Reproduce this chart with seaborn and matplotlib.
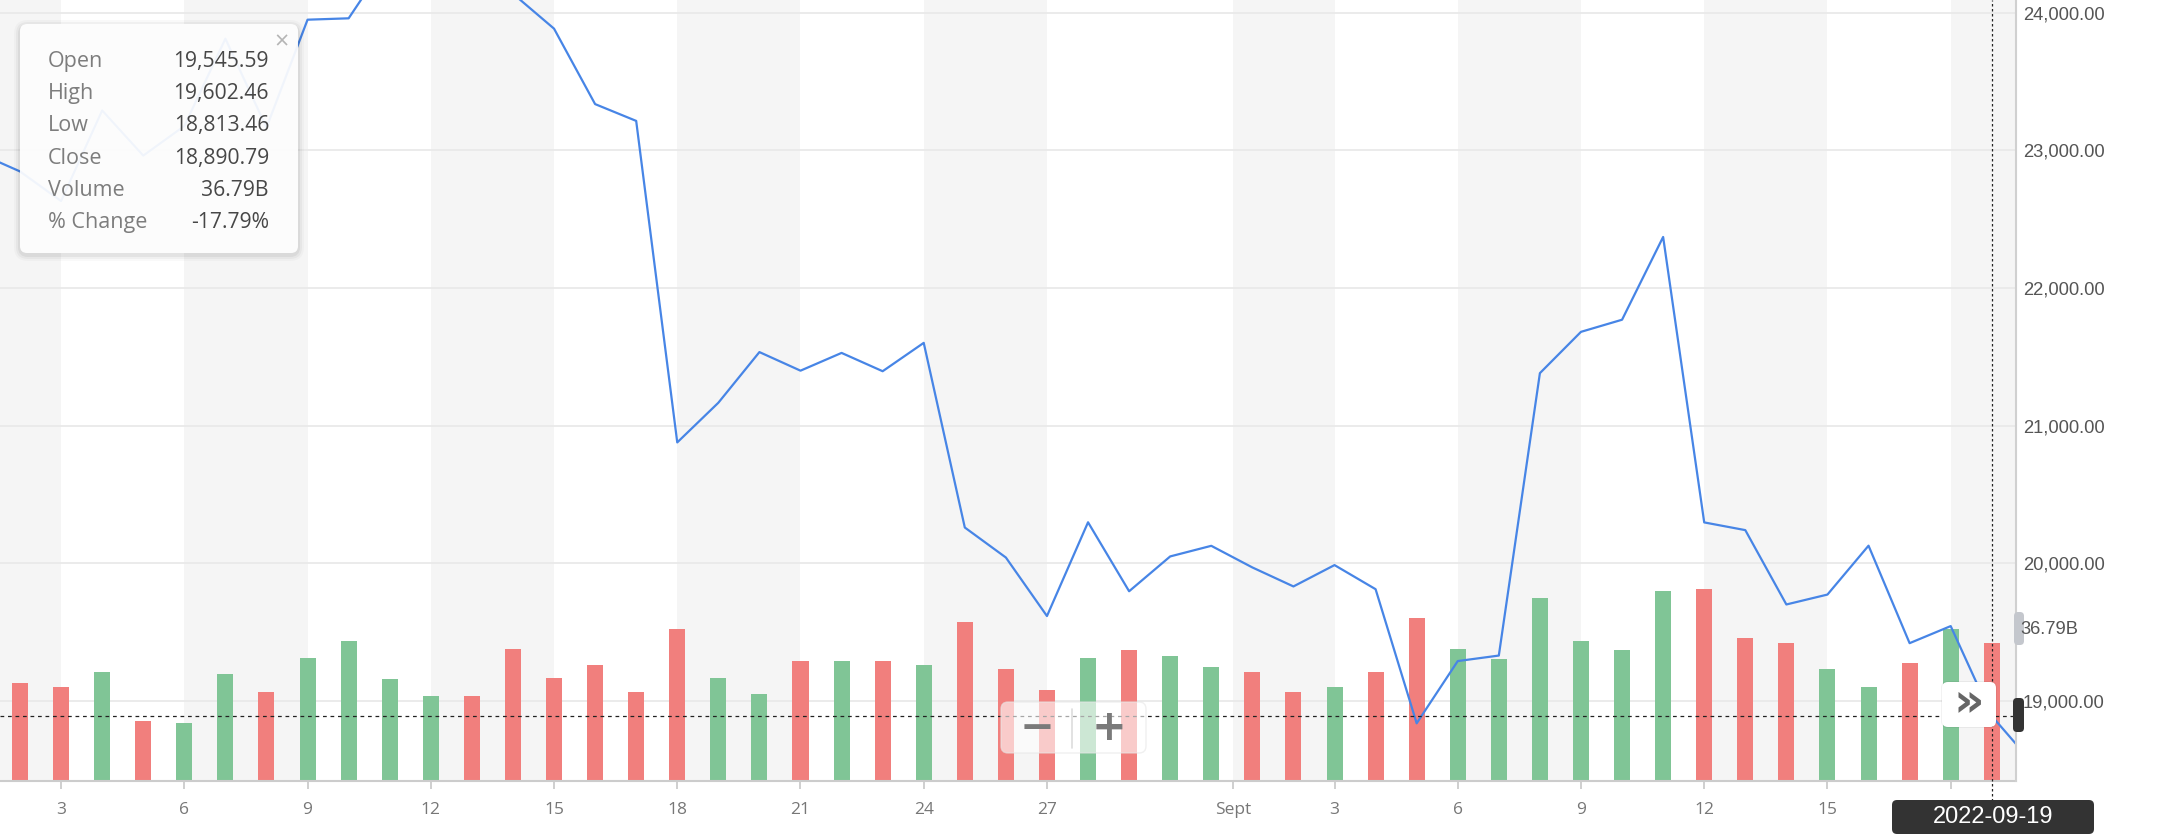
import numpy as np
import pandas as pd
import matplotlib
matplotlib.use("Agg")
import matplotlib.pyplot as plt
import matplotlib.transforms as mtransforms
from matplotlib.patches import FancyBboxPatch
import seaborn as sns

sns.set_theme(style="white")
plt.rcParams['font.family'] = ['Liberation Sans', 'DejaVu Sans']

# day numbers: Aug 1 = 0 ... Aug 31 = 30, Sep 1 = 31 ... Sep 20 = 50
close_days = list(range(0, 51))
close_vals = [22978, 22846, 22631, 23289, 22961, 23176, 23810, 23164, 23948, 23958,
              24403, 24424, 24319, 24137, 23883, 23335, 23213, 20878, 21166, 21534,
              21399, 21528, 21395, 21601, 20260, 20042, 19617, 20298, 19797, 20050,
              20127, 19970, 19832, 19987, 19812, 18838, 19290, 19330, 21381, 21681,
              21769, 22370, 20297, 20241, 19701, 19773, 20128, 19420, 19544, 18891,
              18547]

# volume in billions, Aug 2 ... Sep 19
vol_days = list(range(1, 50))
vol_vals = [26.1, 25.2, 29.0, 16.0, 15.6, 28.5, 23.7, 32.9, 37.3, 27.2,
            22.8, 22.8, 35.3, 27.6, 31.0, 23.7, 40.6, 27.6, 23.2, 32.0,
            32.0, 32.0, 31.0, 42.6, 30.0, 24.2, 32.9, 34.9, 33.3, 30.5,
            29.0, 23.8, 25.2, 29.0, 43.6, 35.4, 32.5, 48.8, 37.3, 34.9,
            50.8, 51.2, 38.2, 36.8, 30.0, 25.2, 31.4, 40.7, 36.79]
vol_dir = ['down', 'down', 'up', 'down', 'up', 'up', 'down', 'up', 'up', 'up',
           'up', 'down', 'down', 'down', 'down', 'down', 'down', 'up', 'up', 'down',
           'up', 'down', 'up', 'down', 'down', 'down', 'up', 'down', 'up', 'up',
           'down', 'down', 'up', 'down', 'down', 'up', 'up', 'up', 'up', 'up',
           'up', 'down', 'down', 'down', 'up', 'up', 'down', 'up', 'down']

tick_days = [2, 5, 8, 11, 14, 17, 20, 23, 26, 30.53, 33, 36, 39, 42, 45, 48]
tick_labels = ['3', '6', '9', '12', '15', '18', '21', '24', '27', 'Sept',
               '3', '6', '9', '12', '15', '']
price_ticks = [19000, 20000, 21000, 22000, 23000, 24000]

tip_labels = ['Open', 'High', 'Low', 'Close', 'Volume', '% Change']
tip_values = ['19,545.59', '19,602.46', '18,813.46', '18,890.79', '36.79B', '-17.79%']
cross_day = 49
cross_price = 18890.79
cross_label = '2022-09-19'
vol_tag = '36.79B'

RED = '#f17f7d'
GREEN = '#80c596'
BLUE = '#4785e6'
BAND = '#f5f5f5'
GRID = '#e9e9e9'

W, H = 2172, 836
fig = plt.figure(figsize=(W / 100, H / 100), dpi=100)
fig.patch.set_facecolor('white')
ax_v = fig.add_axes([0, 55 / H, 2016 / W, 781 / H])
ax_p = ax_v.twinx()

x_lo, x_hi = 0.513, 49.59

# alternating background bands between ticks
edges = [x_lo] + tick_days + [x_hi]
for i in range(0, len(edges) - 1, 2):
    ax_v.axvspan(edges[i], edges[i + 1], color=BAND, lw=0, zorder=0)

# price gridlines drawn under the bars
trans = mtransforms.blended_transform_factory(ax_v.transAxes, ax_p.transData)
for p in price_ticks:
    ax_v.plot([0, 1], [p, p], transform=trans, color=GRID, lw=1.3, zorder=1)

vol_df = pd.DataFrame({'day': vol_days, 'volume': vol_vals, 'dir': vol_dir})
sns.barplot(data=vol_df, x='day', y='volume', hue='dir',
            palette={'up': GREEN, 'down': RED}, native_scale=True, dodge=False,
            width=0.39, errorbar=None, saturation=1, legend=False, ax=ax_v,
            zorder=2, linewidth=0)

sns.lineplot(x=close_days, y=close_vals, ax=ax_p, color=BLUE, lw=1.6)

# crosshair
ax_p.axhline(cross_price, color='#222222', lw=0.9, ls=(0, (3, 3)), zorder=3)
ax_p.axvline(cross_day, ymin=-0.025, ymax=1, color='#222222', lw=0.9,
             ls=(0, (2, 2)), clip_on=False, zorder=3)

ax_v.set_xlim(x_lo, x_hi)
ax_v.set_ylim(0, 208.7)
ax_p.set_ylim(18419, 24091)
ax_v.set_xticks(tick_days)
ax_v.set_xticklabels(tick_labels, family=['Open Sans', 'DejaVu Sans'],
                     fontsize=12.5, color='#777777')
ax_v.tick_params(axis='x', length=6, width=1.3, color='#cccccc', pad=9,
                 bottom=True)
ax_v.set_yticks([])
ax_v.set_xlabel('')
ax_v.set_ylabel('')
ax_p.set_ylabel('')
ax_p.set_yticks(price_ticks)
ax_p.set_yticklabels([f'{p:,.2f}' for p in price_ticks], fontsize=13.2,
                     color='#555555')
ax_p.tick_params(axis='y', length=0, pad=5)

for s in ['top', 'left', 'right']:
    ax_v.spines[s].set_visible(False)
ax_v.spines['bottom'].set_color('#cccccc')
ax_v.spines['bottom'].set_linewidth(1.5)
for s in ['top', 'left', 'bottom']:
    ax_p.spines[s].set_visible(False)
ax_p.spines['right'].set_color('#d0d0d0')
ax_p.spines['right'].set_linewidth(1.5)

# overlay widgets in pixel coordinates (y from top)
pxt = mtransforms.IdentityTransform()


def box(x0, y0, x1, y1, r, fc, ec='none', alpha=1.0, z=10, lw=1):
    b = FancyBboxPatch((x0, H - y1), x1 - x0, y1 - y0,
                       boxstyle=f'round,pad=0,rounding_size={r}',
                       fc=fc, ec=ec, alpha=alpha, lw=lw, transform=pxt,
                       zorder=z)
    fig.patches.append(b)
    return b


def txt(x, y, s, **kw):
    return fig.text(x, H - y, s, transform=pxt, **kw)


# tooltip with soft shadow
for k, a in [(6, 0.025), (4, 0.035), (2, 0.05)]:
    box(20 - k, 24 - k + 2, 298 + k, 253 + k + 2, 8 + k, '#000000', alpha=a, z=9)
box(20, 24, 298, 253, 7, 'white', alpha=0.93, z=10)
for i, (lab, val) in enumerate(zip(tip_labels, tip_values)):
    yb = 67 + i * 32.2
    txt(48, yb, lab, family=['Open Sans', 'DejaVu Sans'], fontsize=15.5,
        color='#7d7d7d', va='baseline', ha='left', zorder=11)
    txt(269, yb, val, family=['Open Sans', 'DejaVu Sans'], fontsize=15.2,
        color='#474747', va='baseline', ha='right', zorder=11)
txt(282, 43, '×', family=['Open Sans', 'DejaVu Sans'], fontsize=18,
    color='#b5b5b5', ha='center', va='center', zorder=11)

# zoom control
box(1001, 702, 1146, 753, 7, 'white', ec='#e6e6e6', alpha=0.6, z=10)
fig.lines.append(plt.Line2D([1072, 1072], [H - 709, H - 748], color='#dddddd',
                            lw=1.2, transform=pxt, zorder=11))
txt(1037, 728, '−', family=['DejaVu Sans'], fontsize=30, fontweight='bold',
    color='#7a7a7a', ha='center', va='center', zorder=11)
txt(1109, 728, '+', family=['DejaVu Sans'], fontsize=30, fontweight='bold',
    color='#7a7a7a', ha='center', va='center', zorder=11)

# scroll button
box(1941, 681, 1997, 728, 7, '#000000', alpha=0.05, z=9)
box(1942, 682, 1996, 727, 6, 'white', z=10)
txt(1969, 703, '»', family=['DejaVu Sans'], fontsize=34, fontweight='bold',
    color='#666666', ha='center', va='center', zorder=11)

# right-side tags
box(2014, 612, 2024, 645, 4, '#c4c7cd', z=10)
txt(2020, 629, vol_tag, fontsize=13.2, color='#555555', ha='left',
    va='center', zorder=11)
box(2013, 698, 2024, 732, 4, '#333333', z=10)

# crosshair date label
box(1892, 800, 2094, 834, 5, '#333333', z=10)
txt(1993, 817, cross_label, fontsize=17, color='white', ha='center',
    va='center', zorder=11)

fig.savefig('out.png', dpi=100)
